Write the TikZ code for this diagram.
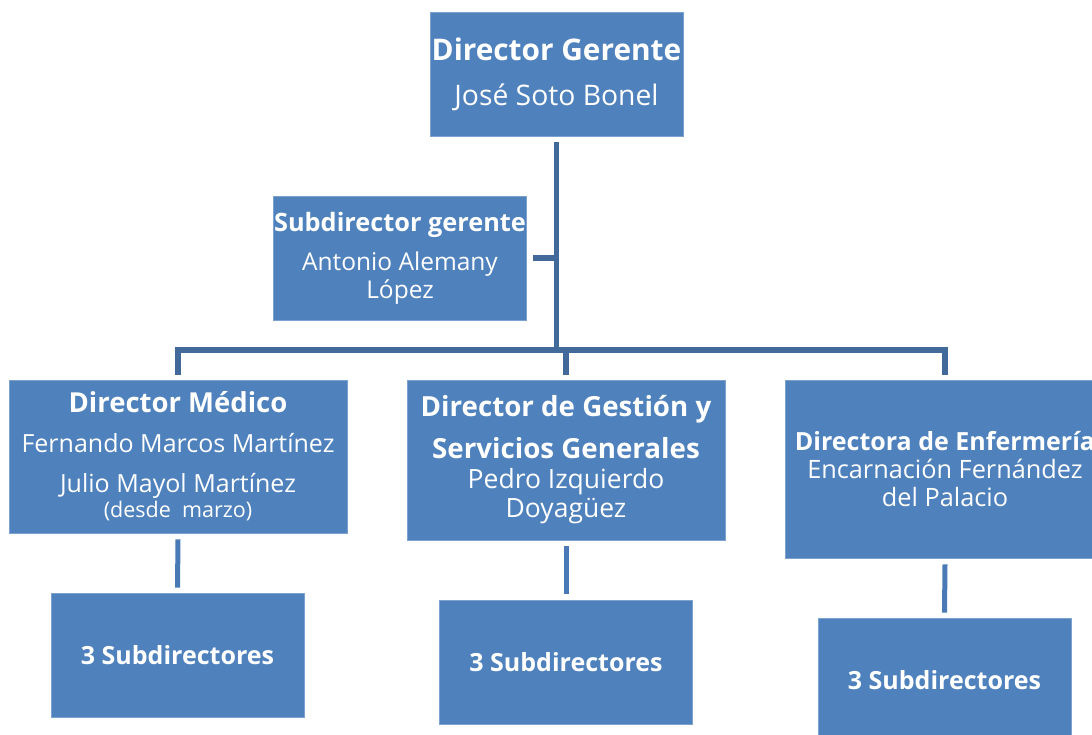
\documentclass[tikz,border=0pt]{standalone}
\usepackage{fontspec}
\setmainfont{Open Sans}
\definecolor{boxblue}{HTML}{4F81BD}
\definecolor{boxedge}{HTML}{7EA2D0}
\definecolor{busblue}{HTML}{41699A}
\definecolor{dropblue}{HTML}{4A7AB5}
\tikzset{
  orgbox/.style={rectangle, fill=boxblue, draw=boxedge, line width=0.8pt, text=white, align=center, inner sep=0pt},
  busline/.style={draw=busblue, line width=5.5pt},
  dropline/.style={draw=dropblue, line width=5pt},
}
\begin{document}
\begin{tikzpicture}[x=1pt,y=-1pt]
\useasboundingbox (0,0) rectangle (1092,735);
% boxes
\node[orgbox, minimum width=253pt, minimum height=124pt, font=\fontsize{28.3}{45}\selectfont] (gm) at (556.5,74)
  {{\bfseries\fontsize{29.8}{45}\selectfont Director Gerente}\\
   José Soto Bonel};
\node[orgbox, minimum width=253pt, minimum height=124pt, font=\fontsize{24.5}{28}\selectfont] (sg) at (400,258)
  {{\bfseries\fontsize{25.3}{28}\selectfont Subdirector gerente}\\[11pt]
   Antonio Alemany\\ López};
\node[orgbox, minimum width=338pt, minimum height=153pt, font=\fontsize{25}{40}\selectfont] (dm) at (178,456.5)
  {{\bfseries\fontsize{27.5}{40}\selectfont Director Médico}\\
   Fernando Marcos Martínez\\
   Julio Mayol Martínez\\[-15pt]
   {\fontsize{21.5}{24}\selectfont (desde\ \ marzo)}};
\node[orgbox, minimum width=318pt, minimum height=160pt, font=\fontsize{26.5}{29}\selectfont] (dg) at (566,460)
  {{\bfseries\fontsize{27.7}{29}\selectfont Director de Gestión y}\\[13pt]
   {\bfseries\fontsize{27.7}{29}\selectfont Servicios Generales}\\[1pt]
   Pedro Izquierdo\\ Doyagüez};
\node[orgbox, minimum width=320pt, minimum height=178pt, font=\fontsize{25.3}{28}\selectfont] (de) at (945,469)
  {{\bfseries\fontsize{25}{28}\selectfont Directora de Enfermería}\\
   Encarnación Fernández\\ del Palacio};
\node[orgbox, minimum width=253pt, minimum height=124pt, font=\fontsize{25}{28}\selectfont\bfseries] (sm) at (177.5,655)
  {3 Subdirectores};
\node[orgbox, minimum width=253pt, minimum height=124pt, font=\fontsize{25}{28}\selectfont\bfseries] (sdg) at (566,662)
  {3 Subdirectores};
\node[orgbox, minimum width=253pt, minimum height=124pt, font=\fontsize{25}{28}\selectfont\bfseries] (sde) at (944.5,680)
  {3 Subdirectores};
% connectors
\coordinate (bus) at (556.5,350);
\draw[busline] ([yshift=-6pt]gm.south) -- (bus);
\draw[busline] ([yshift=5pt]dm.north) |- (bus) -| ([yshift=5pt]de.north);
\draw[busline] (bus -| dg.north) -- ([yshift=5pt]dg.north);
\draw[busline] ([xshift=6pt]sg.east) -- (sg.east -| gm.south);
\draw[dropline] ([yshift=-6pt]dm.south) -- ([yshift=5pt]sm.north);
\draw[dropline] ([yshift=-6pt]dg.south) -- ([yshift=6pt]sdg.north);
\draw[dropline] ([yshift=-6pt]de.south) -- ([yshift=5pt]sde.north);
\end{tikzpicture}
\end{document}
